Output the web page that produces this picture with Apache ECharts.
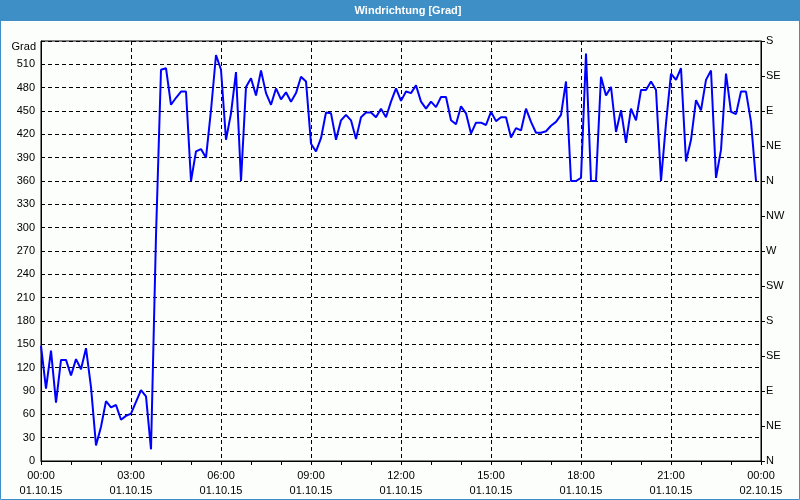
<!DOCTYPE html>
<html><head><meta charset="utf-8">
<script src="https://cdn.jsdelivr.net/npm/echarts@6/dist/echarts.min.js"></script>
<style>html,body{margin:0;padding:0;background:#fcfefc}#c{width:800px;height:500px}</style>
</head><body><div id="c"></div>
<script>
const titleText = 'Windrichtung [Grad]';
const yAxisName = 'Grad';
const xTickTimes = ['00:00','03:00','06:00','09:00','12:00','15:00','18:00','21:00','00:00'];
const xTickDates = ['01.10.15','01.10.15','01.10.15','01.10.15','01.10.15','01.10.15','01.10.15','01.10.15','02.10.15'];
const compassLabels = ['N','NE','E','SE','S','SW','W','NW','N','NE','E','SE','S'];
const times = [
'00:00','00:10','00:20','00:30','00:40','00:50','01:00','01:10','01:20','01:30','01:40','01:50',
'02:00','02:10','02:20','02:30','02:40','02:50','03:00','03:10','03:20','03:30','03:40','03:50',
'04:00','04:10','04:20','04:30','04:40','04:50','05:00','05:10','05:20','05:30','05:40','05:50',
'06:00','06:10','06:20','06:30','06:40','06:50','07:00','07:10','07:20','07:30','07:40','07:50',
'08:00','08:10','08:20','08:30','08:40','08:50','09:00','09:10','09:20','09:30','09:40','09:50',
'10:00','10:10','10:20','10:30','10:40','10:50','11:00','11:10','11:20','11:30','11:40','11:50',
'12:00','12:10','12:20','12:30','12:40','12:50','13:00','13:10','13:20','13:30','13:40','13:50',
'14:00','14:10','14:20','14:30','14:40','14:50','15:00','15:10','15:20','15:30','15:40','15:50',
'16:00','16:10','16:20','16:30','16:40','16:50','17:00','17:10','17:20','17:30','17:40','17:50',
'18:00','18:10','18:20','18:30','18:40','18:50','19:00','19:10','19:20','19:30','19:40','19:50',
'20:00','20:10','20:20','20:30','20:40','20:50','21:00','21:10','21:20','21:30','21:40','21:50',
'22:00','22:10','22:20','22:30','22:40','22:50','23:00','23:10','23:20','23:30','23:40','23:50'
];
const directions = [
148, 93, 142, 75, 130, 130, 110, 131, 118, 145,
95, 20, 44, 77, 69, 72, 53, 58, 61, 76,
91, 83, 15, 290, 503, 505, 458, 467, 475, 475,
360, 398, 401, 390, 451, 522, 503, 413, 447, 500,
360, 481, 492, 470, 502, 473, 458, 479, 465, 474,
462, 473, 494, 488, 408, 398, 415, 448, 447, 413,
438, 445, 438, 414, 442, 448, 448, 442, 453, 442,
462, 479, 463, 475, 473, 483, 462, 453, 462, 455,
468, 468, 438, 433, 456, 447, 421, 435, 435, 432,
449, 437, 442, 442, 416, 428, 425, 453, 436, 422,
422, 424, 431, 436, 445, 488, 360, 360, 364, 524,
360, 360, 494, 470, 481, 423, 451, 409, 453, 438,
477, 477, 488, 477, 360, 434, 498, 490, 505, 385,
413, 464, 451, 490, 502, 364, 400, 498, 449, 446,
475, 475, 436, 360
];

function toHours(t){ const p = t.split(':'); return +p[0] + (+p[1])/60; }
const seriesData = times.map((t,i)=>[toHours(t), directions[i]]);

const FONT = 'Liberation Sans, Arial, sans-serif';
const frameBlue = '#3d8fc6';
const chart = echarts.init(document.getElementById('c'), null, {renderer:'canvas'});
chart.setOption({
  backgroundColor: '#fcfefc',
  animation: false,
  graphic: [
    {type:'rect', shape:{x:0,y:0,width:800,height:21}, style:{fill:frameBlue}, silent:true},
    {type:'rect', shape:{x:0.5,y:0.5,width:799,height:499}, style:{fill:null, stroke:frameBlue, lineWidth:1}, silent:true},
    {type:'text', x:408, y:11, style:{text:titleText, fill:'#ffffff', font:'bold 11px ' + FONT, textAlign:'center', textVerticalAlign:'middle'}, silent:true}
  ],
  grid: {left:41, right:39, top:41, bottom:39, show:true, borderColor:'#000', borderWidth:1, backgroundColor:'transparent', containLabel:false, outerBoundsMode:'none'},
  xAxis: {
    type:'value', min:0, max:24, interval:3,
    axisLine:{show:true, lineStyle:{color:'#000', width:1}},
    axisTick:{show:true, length:4, lineStyle:{color:'#000'}},
    minorTick:{show:true, splitNumber:3, length:4, lineStyle:{color:'#000'}},
    splitLine:{show:true, lineStyle:{color:'#000', width:1, type:[4,3]}},
    axisLabel:{color:'#000', fontSize:11, fontFamily:FONT, margin:7, lineHeight:15,
      formatter: v => { const k = Math.round(v/3); return xTickTimes[k] + '\n' + xTickDates[k]; }}
  },
  yAxis: [
    {type:'value', min:0, max:540, interval:30, position:'left',
     name:yAxisName, nameLocation:'end', nameGap:0,
     nameTextStyle:{color:'#000', fontSize:11, fontFamily:FONT, align:'right', verticalAlign:'top', padding:[0,5,0,0]},
     axisLine:{show:true, lineStyle:{color:'#000'}},
     axisTick:{show:false},
     splitLine:{show:true, lineStyle:{color:'#000', width:1, type:[4,3]}},
     axisLabel:{color:'#000', fontSize:11, fontFamily:FONT, margin:6, formatter: v => v===540 ? '' : String(v)}
    },
    {type:'value', min:0, max:540, interval:45, position:'right',
     axisLine:{show:true, lineStyle:{color:'#000'}},
     axisTick:{show:true, length:4, lineStyle:{color:'#000'}},
     splitLine:{show:false},
     axisLabel:{color:'#000', fontSize:11, fontFamily:FONT, margin:5, formatter: v => compassLabels[Math.round(v/45)]}
    }
  ],
  series: [{
    type:'line', yAxisIndex:0, data:seriesData, symbol:'none', showSymbol:false, smooth:false,
    lineStyle:{color:'#0000ff', width:2}, clip:false
  }]
});
</script></body></html>
